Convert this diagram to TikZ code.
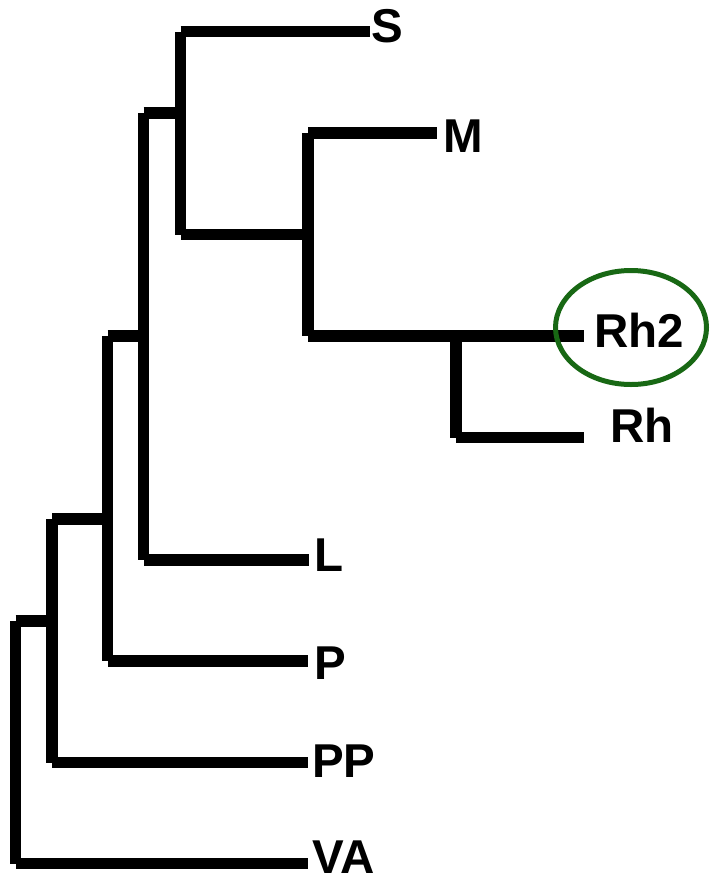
\documentclass[tikz,border=0pt]{standalone}
\usepackage{fontspec}
\setmainfont{Liberation Sans}
\definecolor{ringgreen}{RGB}{24,104,20}
\begin{document}
\begin{tikzpicture}[x=1pt,y=-1pt,
  branch/.style={line width=11.5pt, line cap=butt},
  taxon/.style={anchor=base west, inner sep=0pt,
    font=\fontsize{47.5}{50}\selectfont\bfseries},
  highlight/.style={draw=ringgreen, line width=5pt}]
\useasboundingbox (0,0) rectangle (713,876);

% branch tips
\coordinate (tS)   at (370,31.5);
\coordinate (tM)   at (437,133);
\coordinate (tRh2) at (584,336);
\coordinate (tRh)  at (584,437.5);
\coordinate (tL)   at (309,560);
\coordinate (tP)   at (308,661);
\coordinate (tPP)  at (308,762.5);
\coordinate (tVA)  at (308,863.5);

% internal nodes (x of the clade bar, y where the parent branch joins)
\coordinate (n1) at (15.5,621);
\coordinate (n2) at (52,621);
\coordinate (n3) at (107.5,519);
\coordinate (n4) at (143.5,336);
\coordinate (n5) at (180.5,113);
\coordinate (n6) at (308,234.5);
\coordinate (n7) at (456,336);

% each clade: a vertical bar and one horizontal branch per child
\foreach \c/\a/\b in {n1/n2/tVA, n2/n3/tPP, n3/n4/tP, n4/n5/tL,
                      n5/tS/n6, n6/tM/n7, n7/tRh2/tRh}{
  \draw[branch] (\c |- \a) -- (\c |- \b);
  \draw[branch] (\c |- \a) -- (\a);
  \draw[branch] (\c |- \b) -- (\b);
}

% taxon labels
\node[taxon] (S)   at (371,42)  {S};
\node[taxon] (M)   at (443,152) {M};
\node[taxon] (Rh2) at (594,347) {Rh2};
\node[taxon] (Rh)  at (610,442) {Rh};
\node[taxon] (L)   at (314,571) {L};
\node[taxon] (P)   at (314,679) {P};
\node[taxon] (PP)  at (312,777) {PP};
\node[taxon] (VA)  at (312,873) {VA};

% ring around Rh2
\draw[highlight] (631,327.5) ellipse [x radius=75.5, y radius=57];
\end{tikzpicture}
\end{document}
